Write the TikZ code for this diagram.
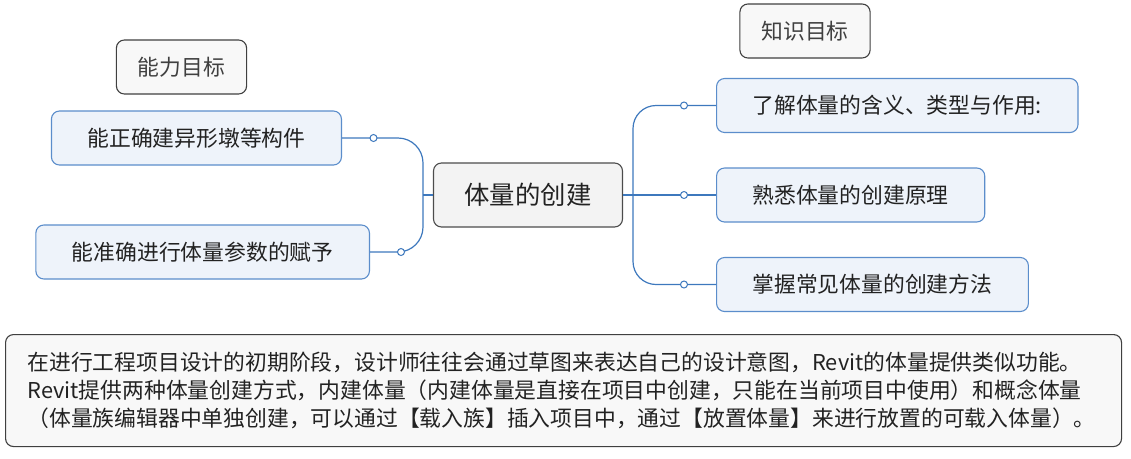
\documentclass[tikz,border=0pt]{standalone}
\usepackage{fontspec}
\setmainfont{Noto Sans CJK SC}
\usepackage{xcolor}
\usepackage{tikz}

\definecolor{linkblue}{HTML}{3D78BD}
\definecolor{edgeblue}{HTML}{5B8DCB}
\definecolor{fillblue}{HTML}{EEF3FA}
\definecolor{fillgray}{HTML}{F3F3F3}
\definecolor{notegray}{HTML}{F8F8F8}
\definecolor{inkgray}{HTML}{222222}

\begin{document}
\begin{tikzpicture}[x=1pt, y=-1pt,
        every node/.style={font=\fontsize{21.8}{28}\selectfont, text=inkgray},
        goalbox/.style={draw=black!75, fill=fillgray!60, line width=1.1pt, rounded corners=8pt, minimum height=54pt, inner xsep=21.5pt, text=black!75},
        itembox/.style={draw=edgeblue, fill=fillblue, line width=1.1pt, rounded corners=8pt, minimum height=54pt, inner xsep=36pt},
        rootbox/.style={draw=black!70, fill=fillgray, line width=1.1pt, rounded corners=8pt, minimum height=64pt, inner xsep=31pt, font=\fontsize{25.4}{30}\selectfont},
        notebox/.style={draw=black!75, fill=notegray, line width=1.1pt, rounded corners=8pt, minimum height=112pt, text width=1072pt, inner xsep=22pt, align=left},
        link/.style={draw=linkblue, line width=1.2pt},
        knob/.style={circle, draw=linkblue, fill=white, line width=1pt, inner sep=0pt, minimum size=7pt}]
        \useasboundingbox (0, 0) rectangle (1131, 458);
        
        \node[rootbox] (root) at (528, 195) {体量的创建};
        
        \node[goalbox] (ability) at (181.5, 67) {能力目标};
        \node[goalbox] (knowledge) at (805, 31) {知识目标};
        
        \node[itembox, anchor=east] (a1) at (342, 138) {能正确建异形墩等构件};
        \node[itembox, anchor=east] (a2) at (370, 252) {能准确进行体量参数的赋予};
        
        \node[itembox, anchor=west] (k1) at (716, 105.5) {了解体量的含义、类型与作用:};
        \node[itembox, anchor=west] (k2) at (716, 195) {熟悉体量的创建原理};
        \node[itembox, anchor=west] (k3) at (716, 284.5) {掌握常见体量的创建方法};
        
        \coordinate (lbus) at (423, 195);
        \coordinate (rbus) at (633, 195);
        
        \draw[link] (root.west) -- (lbus);
        \draw[link, rounded corners=25pt] (a1.east) -- (a1.east -| lbus) -- (a2.east -| lbus) -- (a2.east);
        \draw[link] (root.east) -- (k2.west);
        \draw[link, rounded corners=23pt] (k1.west) -- (k1.west -| rbus) -- (k3.west -| rbus) -- (k3.west);
        
        \node[knob] (a1knob) at (373.5, 138) {};
        \node[knob] (a2knob) at (401, 252) {};
        \node[knob] (k1knob) at (684, 105.5) {};
        \node[knob] (k2knob) at (684, 195) {};
        \node[knob] (k3knob) at (684, 284.5) {};
        
        \node[notebox, anchor=north west] (note) at (5, 334) {在进行工程项目设计的初期阶段，设计师往往会通过草图来表达自己的设计意图，Revit的体量提供类似功能。\\
        Revit提供两种体量创建方式，内建体量（内建体量是直接在项目中创建，只能在当前项目中使用）和概念体量\\
        （体量族编辑器中单独创建，可以通过【载入族】插入项目中，通过【放置体量】来进行放置的可载入体量）。};
    \end{tikzpicture}
\end{document}
